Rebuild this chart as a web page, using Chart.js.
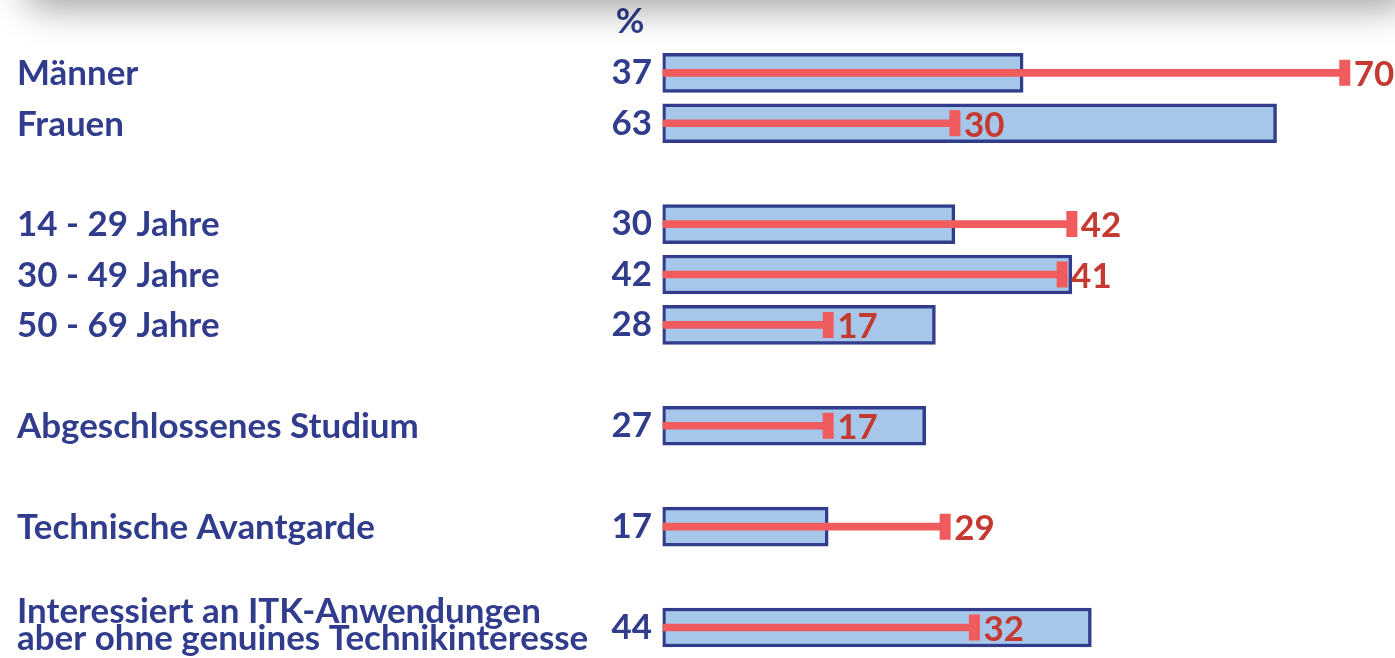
<!DOCTYPE html>
<html>
<head>
<meta charset="utf-8">
<script src="https://cdn.jsdelivr.net/npm/chart.js@4.4.1/dist/chart.umd.min.js"></script>
<style>
  html, body { margin: 0; padding: 0; background: #fff; overflow: hidden; }
  #wrap { position: relative; width: 1395px; height: 658px; overflow: hidden; }
  #shade {
    position: absolute; top: -30px; left: 30px; right: -10px; height: 30px;
    border-radius: 30px;
    box-shadow: 0 0 38px 6px rgba(0,0,0,0.42);
  }
  canvas { position: absolute; left: 0; top: 0; }
</style>
</head>
<body>
<div id="wrap">
  <canvas id="chart" width="1395" height="658"></canvas>
  <div id="shade"></div>
</div>
<script>
// categories (empty strings are the spacer rows)
const categories = [
  ['Männer'], ['Frauen'], [''],
  ['14 - 29 Jahre'], ['30 - 49 Jahre'], ['50 - 69 Jahre'], [''],
  ['Abgeschlossenes Studium'], [''],
  ['Technische Avantgarde'], [''],
  ['Interessiert an ITK-Anwendungen', 'aber ohne genuines Technikinteresse']
]
const barValues = [37, 63, null, 30, 42, 28, null, 27, null, 17, null, 44]
const lineValues = [70, 30, null, 42, 41, 17, null, 17, null, 29, null, 32]
const unitLabel = '%'

const blue = '#313d8c'
const fill = '#a7c7ea'
const red = '#f05b5e'
const redText = '#c53a30'
const font = 'Lato, sans-serif'

// pick a font size so the longest one-line label has the width of the original
const probe = document.createElement('canvas').getContext('2d')
probe.font = 'bold 30px ' + font
const fs = 30 * 402 / probe.measureText('Abgeschlossenes Studium').width

const labelsPlugin = {
  id: 'labels',
  afterDatasetsDraw(chart) {
    const ctx = chart.ctx
    const x = chart.scales.x
    const y = chart.scales.y
    ctx.save()
    ctx.textBaseline = 'middle'
    ctx.font = 'bold ' + fs + 'px ' + font
    categories.forEach((lines, i) => {
      const py = y.getPixelForValue(i)
      ctx.fillStyle = blue
      ctx.textAlign = 'left'
      if (lines.length === 1) {
        ctx.fillText(lines[0], 17, py + 1)
      } else {
        ctx.fillText(lines[0], 17, py - 16)
        ctx.fillText(lines[1], 17, py + 11)
      }
      if (barValues[i] != null) {
        ctx.textAlign = 'right'
        ctx.fillText(String(barValues[i]), 652, py)
      }
      if (lineValues[i] != null) {
        ctx.fillStyle = redText
        ctx.textAlign = 'left'
        ctx.fillText(String(lineValues[i]), x.getPixelForValue(lineValues[i]) + 9, py + 2)
      }
    })
    ctx.fillStyle = blue
    ctx.textAlign = 'center'
    ctx.fillText(unitLabel, 630, 22)
    ctx.restore()
  }
}

new Chart(document.getElementById('chart'), {
  type: 'bar',
  data: {
    labels: categories.map(c => c.join(' ')),
    datasets: [
      {
        type: 'bar',
        data: barValues,
        backgroundColor: fill,
        borderColor: blue,
        borderWidth: 3.5,
        borderSkipped: false,
        barThickness: 39,
        grouped: false,
        order: 3
      },
      {
        type: 'bar',
        data: lineValues,
        backgroundColor: red,
        borderWidth: 0,
        barThickness: 7,
        grouped: false,
        order: 2
      },
      {
        type: 'line',
        data: lineValues,
        showLine: false,
        pointStyle: 'line',
        rotation: 90,
        pointRadius: 13,
        pointBorderWidth: 11,
        pointBorderColor: red,
        pointBackgroundColor: red,
        order: 1
      }
    ]
  },
  options: {
    indexAxis: 'y',
    responsive: false,
    animation: false,
    layout: { autoPadding: false, padding: { left: 662.5, right: 1.5, top: 47.6, bottom: 5.3 } },
    scales: {
      x: { display: false, min: 0, max: 75 },
      y: { display: false }
    },
    plugins: { legend: { display: false }, tooltip: { enabled: false } }
  },
  plugins: [labelsPlugin]
})
</script>
</body>
</html>
